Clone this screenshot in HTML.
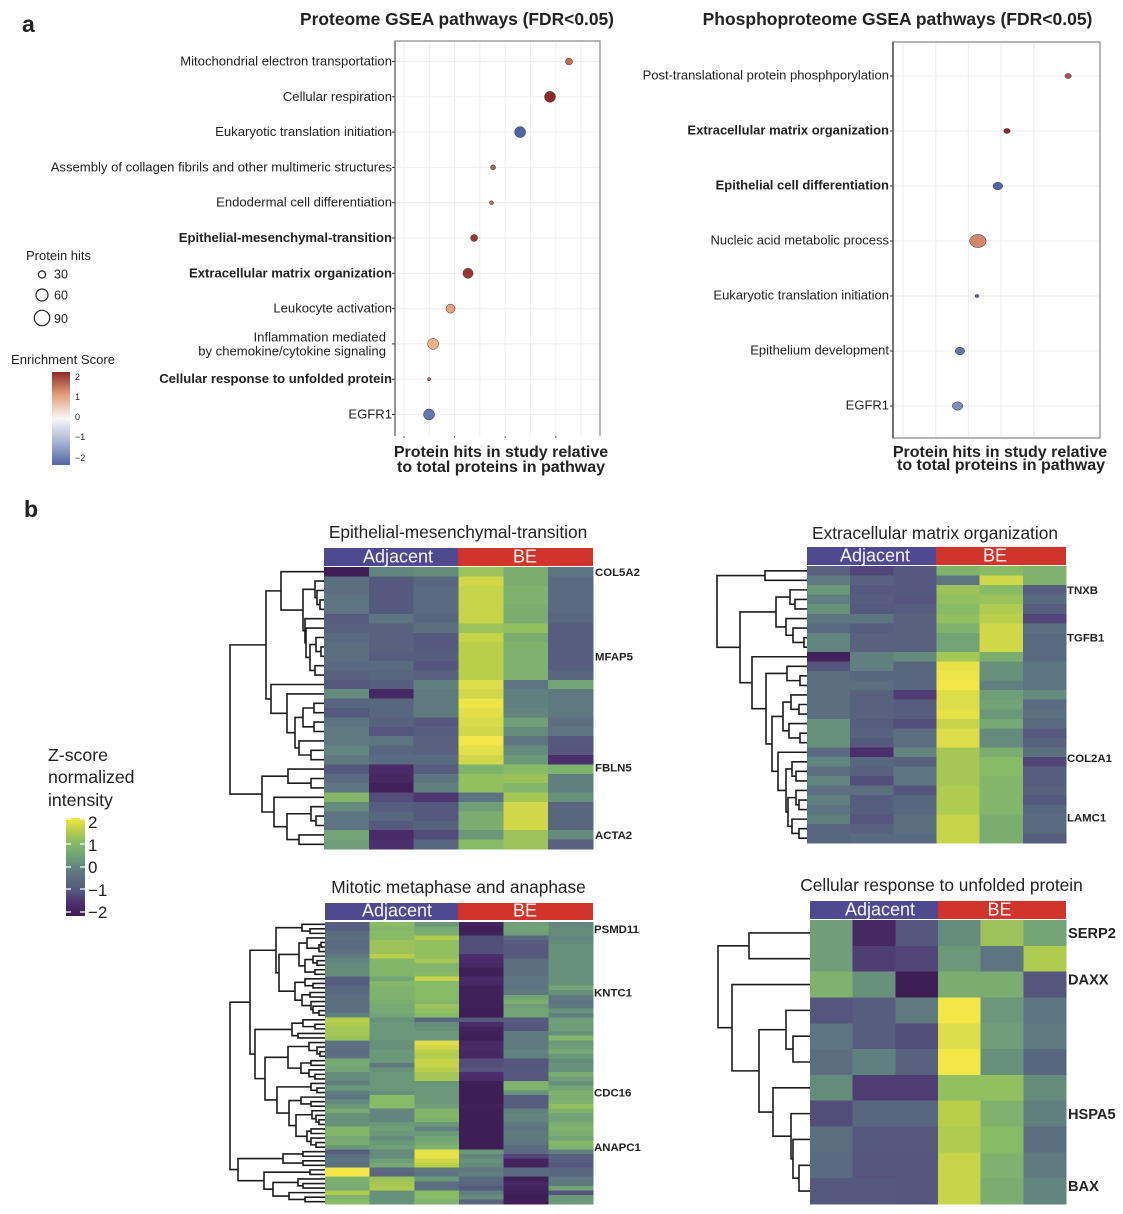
<!DOCTYPE html>
<html lang="en">
<head>
<meta charset="utf-8">
<title>GSEA pathways and heatmaps</title>
<style>
html,body{margin:0;padding:0;background:#fff;}
svg{display:block;font-family:"Liberation Sans",Arial,sans-serif;}
text{fill:#222;}
</style>
</head>
<body>
<svg id="figure" xmlns="http://www.w3.org/2000/svg" width="1123" height="1214" viewBox="0 0 1123 1214">
  <rect x="0" y="0" width="1123" height="1214" fill="#fff"/>
  <defs>
    <linearGradient id="esGrad" x1="0" y1="0" x2="0" y2="1">
      <stop offset="0" stop-color="#8c2a2a"/><stop offset=".25" stop-color="#e3a17e"/><stop offset=".5" stop-color="#f7f7f7"/><stop offset=".75" stop-color="#a9b5d6"/><stop offset="1" stop-color="#5165a5"/>
    </linearGradient>
    <linearGradient id="zGrad" x1="0" y1="0" x2="0" y2="1">
      <stop offset="0" stop-color="#f3e647"/><stop offset=".125" stop-color="#b9cf4a"/><stop offset=".25" stop-color="#88bb66"/><stop offset=".375" stop-color="#72a476"/><stop offset=".5" stop-color="#62857f"/><stop offset=".625" stop-color="#5a6a80"/><stop offset=".75" stop-color="#55557e"/><stop offset=".875" stop-color="#4a2f6c"/><stop offset="1" stop-color="#3f1d55"/>
    </linearGradient>
  </defs>

  <text x="22" y="32" font-size="23" font-weight="bold">a</text>
  <text x="24" y="517" font-size="23" font-weight="bold">b</text>

  <text x="457" y="25" font-size="17.4" font-weight="bold" text-anchor="middle">Proteome GSEA pathways (FDR&lt;0.05)</text>
  <text x="897.5" y="25" font-size="17.5" font-weight="bold" text-anchor="middle">Phosphoproteome GSEA pathways (FDR&lt;0.05)</text>

  <text x="501" y="457" font-size="16" font-weight="bold" text-anchor="middle">Protein hits in study relative</text>
  <text x="501" y="472" font-size="16" font-weight="bold" text-anchor="middle">to total proteins in pathway</text>
  <text x="1000" y="457" font-size="16" font-weight="bold" text-anchor="middle">Protein hits in study relative</text>
  <text x="1001" y="470" font-size="16" font-weight="bold" text-anchor="middle">to total proteins in pathway</text>

  <g>
    <text x="26" y="260" font-size="13">Protein hits</text>
    <circle cx="42" cy="274.5" r="3.6" fill="#fff" stroke="#222" stroke-width="1.2"/>
    <text x="54" y="278.5" font-size="12.5">30</text>
    <circle cx="42" cy="295" r="6" fill="#fff" stroke="#222" stroke-width="1.2"/>
    <text x="54" y="299.5" font-size="12.5">60</text>
    <circle cx="42" cy="318" r="7.7" fill="#fff" stroke="#222" stroke-width="1.2"/>
    <text x="54" y="323" font-size="12.5">90</text>
  </g>

  <g>
    <text x="11" y="364" font-size="13.1">Enrichment Score</text>
    <rect x="52" y="372" width="18" height="93" fill="url(#esGrad)"/>
    <text x="75" y="380" font-size="9">2</text>
    <text x="75" y="400" font-size="9">1</text>
    <text x="75" y="420" font-size="9">0</text>
    <text x="75" y="440" font-size="9">−1</text>
    <text x="75" y="461" font-size="9">−2</text>
  </g>

  <g>
    <text x="48" y="761" font-size="17.7">Z-score</text>
    <text x="48" y="783" font-size="17.7">normalized</text>
    <text x="48" y="806" font-size="17.7">intensity</text>
    <rect x="66" y="818" width="19" height="98" fill="url(#zGrad)"/>
    <g stroke="#fff" stroke-width="1.2">
      <path d="M66 819h5M80 819h5M66 844h5M80 844h5M66 867h5M80 867h5M66 889h5M80 889h5M66 912h5M80 912h5"/>
    </g>
    <text x="88" y="828" font-size="17">2</text>
    <text x="88" y="851" font-size="17">1</text>
    <text x="88" y="873" font-size="17">0</text>
    <text x="88" y="896" font-size="17">−1</text>
    <text x="88" y="918" font-size="17">−2</text>
  </g>
</svg>

<script>
/* ---------- dot plot data ---------- */
const proteomePathways = ["Mitochondrial electron transportation","Cellular respiration","Eukaryotic translation initiation","Assembly of collagen fibrils and other multimeric structures","Endodermal cell differentiation","Epithelial-mesenchymal-transition","Extracellular matrix organization","Leukocyte activation","Inflammation mediated|by chemokine/cytokine signaling","Cellular response to unfolded protein","EGFR1"];
const proteomeBold = [false,false,false,false,false,true,true,false,false,true,false];
const proteomeRatio = [0.652,0.577,0.459,0.352,0.346,0.277,0.253,0.184,0.115,0.099,0.099];
const proteomeHits = [19,47,47,10,6,19,40,32,47,4,47];
const proteomeScore = [1.5,2.0,-2.1,1.6,1.5,1.9,1.9,1.1,0.95,1.6,-1.8];
const phosphoPathways = ["Post-translational protein phosphporylation","Extracellular matrix organization","Epithelial cell differentiation","Nucleic acid metabolic process","Eukaryotic translation initiation","Epithelium development","EGFR1"];
const phosphoBold = [false,true,true,false,false,false,false];
const phosphoRatio = [0.505,0.318,0.290,0.229,0.226,0.174,0.167];
const phosphoHits = [11,11,25,75,4,24,30];
const phosphoScore = [1.7,2.0,-2.2,1.3,-2.0,-1.8,-1.5];
const esStops = [-2,-1,0,1,2];
const esColors = ["#5165a5","#a9b5d6","#f7f7f7","#eeb08a","#8c2a2a"];

/* ---------- heatmap data ---------- */
const sampleGroups = ["Adjacent","BE"];
const zStops = [-2,-1.5,-1,-0.5,0,0.5,1,1.5,2];
const zColors = ["#3f1d55","#4a2f6c","#55557e","#5a6a80","#62857f","#72a476","#88bb66","#b9cf4a","#f3e647"];

const emtRows = [
[-2,0,.1,1.2,.7,-.3],[-.4,-.9,-.6,1.7,.7,-.5],[-.4,-.9,-.5,1.6,.8,-.5],[-.3,-.9,-.5,1.6,.8,-.5],[-.3,-.9,-.5,1.6,.7,-.5],
[-.8,-.3,-.6,1.6,.7,-.6],[-.7,-.7,-.4,1.2,1.1,-.8],[-.5,-.7,-.9,1.6,.7,-.8],[-.4,-.7,-.9,1.5,.8,-.8],[-.4,-.8,-.8,1.5,.8,-.8],
[-.5,-.5,-1,1.5,.8,-.8],[-.7,-.6,-.7,1.5,.8,-.6],[-.9,-.8,-.1,1.8,-.3,.5],[.1,-1.7,-.2,1.7,-.1,-.2],[-.6,-.6,-.2,1.95,-.1,-.2],
[-.9,-.6,-.2,1.85,0,-.2],[-.3,-.7,-.9,1.75,.4,-.4],[-.2,-1,-.8,1.7,.1,-.3],[-.2,-.3,-.7,2,-.3,-.9],[0,-.6,-.7,1.85,.1,-1],
[-.2,-.5,-.5,1.7,.3,-1.5],[-.9,-1.6,-.8,.8,1,.8],[-.5,-1.7,-.3,1.1,1.2,-.1],[-.3,-1.9,-.1,1.1,.9,-.1],[.9,-1.1,-1.4,-.3,1.3,.2],
[.1,-.8,-.9,.4,1.7,-.6],[-.3,-.6,-.9,.7,1.7,-.6],[-.3,-.9,-.7,.7,1.7,-.6],[.5,-1.6,-1.1,.3,1.2,.1],[.4,-1.5,-.6,1,1.2,-.7]];
const emtTree = [94,[58,[43,0,[21,[9,0,[7,0,[4,0,0]]],[19,0,[18,0,[14,[8,0,[3,0,0]],[9,0,0]]]]]],[53,0,[37,0,[29,[21,[10,0,0],[10,0,0]],[25,0,[13,0,0]]]]]],[62,[36,0,[13,0,0]],[50,0,[37,[13,0,[8,0,0]],[25,0,0]]]]];
const emtGenes = ["COL5A2","MFAP5","FBLN5","ACTA2"];
const emtGeneRows = [0,9,20.8,28];

const ecmRows = [
[-.7,-1.2,-.9,.8,1,.8],[-.2,-.7,-.9,-.3,1.7,.8],[.3,-.9,-.9,1.2,1,-.8],[-.1,-.8,-1,1.1,1.2,-.5],[.2,-.9,-.8,1,1.4,-.8],
[-.3,-.3,-.7,1.1,1.5,-1.2],[-.5,-.8,-.7,.8,1.7,-.4],[0,-.7,-.7,.5,1.7,-.5],[0,-.7,-.7,.5,1.7,-.5],[-1.9,-.1,.1,1.3,.7,-.5],
[-1,-.1,-.6,1.9,.2,-.3],[-.4,-.6,-.6,1.95,.2,-.3],[-.4,-.4,-.6,2,-.1,-.3],[-.4,-.7,-1.3,1.8,.4,.1],[-.4,-.7,-.8,1.8,.5,-.5],
[-.4,-.7,-.8,1.9,.3,-.4],[.2,-.8,-1.1,1.6,.6,-.5],[.2,-.7,-.4,1.8,.1,-.9],[.2,-.9,-.4,1.8,.1,-.7],[-.5,-1.5,0,1.3,.7,-.4],
[0,-.6,-.7,1.3,1,-1.2],[-.4,-.7,-.3,1.3,1,-.8],[0,-1.1,-.3,1.3,.9,-.8],[-.4,-.4,-1,1.4,.9,-.7],[-.1,-.8,-.6,1.4,.9,-.9],
[-.3,-.8,-.6,1.4,.9,-.6],[-.1,-1,-.4,1.6,.7,-.5],[-.6,-.7,-.4,1.6,.7,-.5],[-.6,-.5,-.5,1.6,.7,-.8]];
const ecmTree = [90,[42,0,0],[67,[31,[17,0,[12,0,0]],[21,0,[14,0,[3,0,0]]]],[55,0,[41,[20,0,[7,0,0]],[35,[24,[16,0,[8,0,0]],[18,0,[7,0,0]]],[29,0,[21,[15,0,[11,0,0]],[19,[11,0,[8,0,0]],[15,0,[8,0,0]]]]]]]]]];
const ecmGenes = ["TNXB","TGFB1","COL2A1","LAMC1"];
const ecmGeneRows = [2,7,19.6,25.8];

const mitoticRows = [
[-.8,1,.3,-1.8,.4,0],[-.8,.9,.6,-2,.5,.1],[-.5,1,.7,-1.9,.4,.1],[-.4,1,1.4,-1.1,-.5,0],[-.5,1.2,1.1,-1.1,-.8,.1],
[-.5,1.2,1.1,-1.1,-.9,.2],[-.4,1.2,1.1,-1.1,-.9,.2],[-.2,1.5,1.1,-1.5,-.9,.2],[0,.9,1.3,-1.6,-.4,.2],[.1,.9,.9,-1.7,-.4,.2],
[.1,.9,.9,-1.95,-.4,.2],[.1,.9,1,-1.95,-.4,.2],[-.8,.5,1.6,-1.6,-.3,.2],[-.8,.9,1,-1.7,-.3,.2],[-.6,.8,1,-1.9,-.3,.5],
[-.5,.8,1,-1.9,-.2,.2],[-.4,.8,1,-1.9,.5,-.2],[-.4,.7,.9,-1.9,.7,-.3],[-.4,.6,1.2,-1.9,.4,-.2],[-.4,.6,1.1,-2,.5,.2],
[-.1,.5,1,-2,.5,-.1],[1.5,.2,-.6,-.9,-.9,.4],[1.4,.3,.1,-1.6,-.9,.4],[1.3,.3,.2,-1.8,-1,.4],[1.3,.3,.3,-1.9,-.2,.2],
[1.2,.3,.3,-2,-.2,.9],[-.3,.2,1.8,-1.7,-.2,.3],[-.4,.2,1.7,-1.6,-.2,.4],[-.5,.3,1.5,-1.7,0,.6],[-.4,.3,1.4,-1.7,-.1,.3],
[.6,.3,1.6,-1.1,-1,.1],[.6,-.2,1.6,-1.1,-1,.2],[.5,.2,1.5,-1,-.9,.2],[.1,.3,1.3,-1.5,-.9,.7],[.1,.3,1.3,-1.6,-.9,.4],
[-.1,.3,.3,-2.3,.8,.2],[.3,.3,.3,-2.3,.8,.5],[-.1,.2,.3,-2.2,.2,.8],[-.3,1,.3,-2.1,-.8,.7],[.1,1,.3,-2,-.8,.8],
[.3,1,.4,-1.9,-.8,1.1],[.6,0,.8,-2.2,-.1,.8],[.2,0,.9,-2.2,0,.5],[.2,0,.8,-2.2,0,.5],[.2,.3,.3,-2.2,-.2,.7],
[.9,.4,-.1,-2.2,-.3,.8],[.9,.3,.3,-2.2,-.2,.7],[.6,.1,.5,-2.2,-.2,.5],[.7,.3,.6,-2.2,-.3,.9],[.3,.4,.8,-2.2,-.5,.8],
[-.8,.1,1.9,.3,-.5,-.1],[-.4,.1,1.9,0,-1.2,-.7],[-.3,.4,1.7,.2,-1.8,-.8],[-.4,.6,1.5,.1,-1.8,-1],[2,-.5,-.2,-.2,-.5,-.6],
[2,-.6,-.3,-.1,-.5,-.6],[.8,1.2,.3,-.5,-1.9,-.2],[.7,1.3,-.4,-.6,-1.7,-.2],[.6,1.4,-.4,-.9,-1.8,.5],[1.4,.2,1,-.1,-1.9,-1],
[.8,.2,1,.1,-2,.3],[1,.2,.8,-.6,-2.1,.3]];
const mitoticTree = [95,[75,[49,[23,0,[15,0,0]],[46,[26,[18,0,[6,[4,0,0],0]],[20,[12,0,[8,0,0]],[10,0,0]]],[30,[20,0,[12,0,0]],[23,[15,0,0],[14,0,[12,0,[6,0,0]]]]]]],[70,[33,[22,0,[10,0,0]],[27,0,0]],[60,[37,[16,0,[8,0,[5,0,0]]],[24,[14,0,0],[16,0,[10,0,0]]]],[48,[14,0,[8,0,0]],[36,[24,0,[14,0,0]],[29,[13,0,[9,0,[6,0,0]]],[18,[14,0,0],[14,0,[9,0,0]]]]]]]]],[87,[42,[22,0,0],[22,0,0]],[61,[15,0,0],[52,[27,0,[22,0,0]],[36,0,[20,0,0]]]]]];
const mitoticGenes = ["PSMD11","KNTC1","CDC16","ANAPC1"];
const mitoticGeneRows = [1,15,37,49];

const unfoldedRows = [
[.4,-1.7,-1,.1,1.2,.5],[.4,-1.3,-1.2,.3,-.3,1.4],[.8,.2,-2.1,.7,.7,-1],[-1,-.8,-.2,2,.3,-.3],[-.3,-.8,-1.1,1.8,.4,-.2],
[-.4,-.1,-.7,2,.2,-.6],[.1,-1.3,-1.3,1.1,1.1,.1],[-1.1,-.6,-.6,1.5,.8,-.1],[-.4,-.9,-.9,1.4,1,-.4],[-.5,-1,-1,1.6,.8,-.2],[-.9,-.9,-1,1.6,.7,0]];
const unfoldedTree = [92,[61,0,0],[78,0,[51,[24,0,[17,0,0]],[37,0,[19,0,[17,0,[11,0,0]]]]]]];
const unfoldedGenes = ["SERP2","DAXX","HSPA5","BAX"];
const unfoldedGeneRows = [0,1.8,7,9.8];

/* ---------- helpers ---------- */
const NS = "http://www.w3.org/2000/svg";
const root = document.getElementById("figure");
function make(parent, tag, attrs) {
  const el = document.createElementNS(NS, tag);
  for (const k in attrs) el.setAttribute(k, attrs[k]);
  parent.appendChild(el);
  return el;
}
function hexToRgb(h) { return [1,3,5].map(i => parseInt(h.substr(i,2),16)); }
function ramp(stops, colors, v) {
  if (v <= stops[0]) return colors[0];
  if (v >= stops[stops.length-1]) return colors[colors.length-1];
  let i = 0;
  while (v > stops[i+1]) i++;
  const t = (v - stops[i]) / (stops[i+1] - stops[i]);
  const a = hexToRgb(colors[i]), b = hexToRgb(colors[i+1]);
  return "rgb(" + a.map((c,j) => Math.round(c + (b[j]-c)*t)).join(",") + ")";
}

/* ---------- dot plots ---------- */
function drawDotPlot(slug, cfg) {
  const g = make(root, "g", {});
  
  
  const xScale = v => cfg.x0 + v * cfg.pxPerUnit;
  const yScale = i => cfg.yFirst + i * cfg.yStep;
  const grid = make(g, "g", {stroke:"#f0f0f0","stroke-width":"1.2",fill:"none"});
  
  
  for (let t = 0; t <= cfg.gridMax + 1e-9; t += cfg.gridStep) {
    make(grid, "line", {x1:xScale(t), x2:xScale(t), y1:cfg.top, y2:cfg.bottom});
  }
  cfg.labels.forEach((_, i) => {
    make(grid, "line", {x1:cfg.left, x2:cfg.right, y1:yScale(i), y2:yScale(i)});
  });
  const frame = make(g, "path", {d:cfg.frame, fill:"none", stroke:"#8a8a8a", "stroke-width":"1.2"});
  
  
  const leftAxis = make(g, "line", {x1:cfg.left, x2:cfg.left, y1:cfg.top, y2:cfg.bottom, stroke:cfg.axisColor, "stroke-width":"1.4"});
  
  
  cfg.labels.forEach((label, i) => {
    const y = yScale(i);
    const tick = make(g, "line", {x1:cfg.left-3, x2:cfg.left, y1:y, y2:y, stroke:"#333", "stroke-width":"1"});
    
    
    const parts = label.split("|");
    parts.forEach((part, j) => {
      const multi = parts.length > 1;
      const t = make(g, "text", {
        x: multi ? cfg.left-9 : cfg.labelRight,
        y: y + 4.5 + cfg.labelDy + (multi ? (j === 0 ? -6.5 : 7.5) : 0),
        "font-size": cfg.fontSize,
        "font-weight": cfg.bold[i] ? "bold" : "normal",
        "text-anchor": "end"
      });
      t.textContent = part;
      
      
    });
    const r = Math.sqrt(cfg.hits[i]) * 0.8;
    const dot = make(g, "ellipse", {
      cx: xScale(cfg.ratio[i]), cy: y,
      rx: r * cfg.rxFactor, ry: r * cfg.ryFactor,
      fill: ramp(esStops, esColors, cfg.score[i]),
      stroke: "#333", "stroke-width": "0.5"
    });
    
    
  });
  if (cfg.tickStep) {
    for (let t = 0; t <= cfg.gridMax + 1e-9; t += cfg.tickStep) {
      const xt = make(g, "line", {x1:xScale(t), x2:xScale(t), y1:cfg.bottom, y2:cfg.bottom+2, stroke:"#666", "stroke-width":"1"});
      
      
    }
  }
}

drawDotPlot("proteome", {
  labels: proteomePathways, bold: proteomeBold, ratio: proteomeRatio, hits: proteomeHits, score: proteomeScore,
  left: 395, right: 600, top: 41, bottom: 436, x0: 404, pxPerUnit: 253, gridStep: 0.1, gridMax: 0.7, tickStep: 0.2,
  yFirst: 61.5, yStep: 35.3, fontSize: 13.1, labelRight: 392, labelDy: -0.5, rxFactor: 1, ryFactor: 1, axisColor: "#777",
  frame: "M395 436V41H600V436"
});
drawDotPlot("phospho", {
  labels: phosphoPathways, bold: phosphoBold, ratio: phosphoRatio, hits: phosphoHits, score: phosphoScore,
  left: 893, right: 1100, top: 42, bottom: 438, x0: 903, pxPerUnit: 327, gridStep: 0.1, gridMax: 0.4, tickStep: 0,
  yFirst: 76, yStep: 55, fontSize: 13, labelRight: 889, labelDy: -1, rxFactor: 1.2, ryFactor: 0.95, axisColor: "#444",
  frame: "M893 438V42H1100V438Z"
});

/* ---------- heatmaps ---------- */
function drawDendrogram(g, tree, heatLeft, heatTop, rowH) {
  let leaf = 0;
  let d = "";
  function walk(node) {
    if (node === 0) {
      const y = heatTop + (leaf + 0.5) * rowH;
      leaf++;
      return {x: heatLeft, y: y};
    }
    const x = heatLeft - node[0];
    const a = walk(node[1]);
    const b = walk(node[2]);
    d += "M" + a.x + " " + a.y + "H" + x + "V" + b.y + "H" + b.x;
    return {x: x, y: (a.y + b.y) / 2};
  }
  walk(tree);
  const path = make(g, "path", {d: d, fill: "none", stroke: "#1c1c1c", "stroke-width": "1.6"});
  
  
}

function drawHeatmap(slug, cfg) {
  const g = make(root, "g", {});
  
  
  const title = make(g, "text", {x: cfg.titleX, y: cfg.titleY, "font-size": cfg.titleSize, "text-anchor": "middle"});
  title.textContent = cfg.title;
  
  

  const nCols = cfg.rows[0].length;
  const colW = (cfg.right - cfg.left) / nCols;
  const rowH = (cfg.bottom - cfg.top) / cfg.rows.length;
  const xScale = c => cfg.left + c * colW;
  const yScale = r => cfg.top + r * rowH;

  const groupColors = ["#4f4a8f", "#d0342a"];
  sampleGroups.forEach((name, i) => {
    const x0 = i === 0 ? cfg.left : cfg.split;
    const x1 = i === 0 ? cfg.split : cfg.right;
    const bar = make(g, "rect", {x: x0, y: cfg.barTop, width: x1 - x0, height: cfg.barBottom - cfg.barTop, fill: groupColors[i]});
    
    
    const label = make(g, "text", {x: cfg.groupLabelX[i], y: cfg.barBottom - 3.5, "font-size": "18", "text-anchor": "middle"});
    label.style.fill = "#f4f4f4";
    label.textContent = name;
    
    
  });

  const cells = make(g, "g", {"shape-rendering": "crispEdges"});
  
  
  cfg.rows.forEach((row, r) => {
    row.forEach((v, c) => {
      const cell = make(cells, "rect", {
        x: xScale(c), y: yScale(r), width: colW + 0.5, height: rowH + 0.5,
        fill: ramp(zStops, zColors, v)
      });
      
      
    });
  });

  drawDendrogram(g, cfg.tree, cfg.left, cfg.top, rowH);

  cfg.genes.forEach((gene, i) => {
    const t = make(g, "text", {
      x: cfg.geneX, y: yScale(cfg.geneRows[i] + 0.5) + cfg.geneSize * 0.36,
      "font-size": cfg.geneSize, "font-weight": "bold"
    });
    t.textContent = gene;
    
    
  });
}

drawHeatmap("emt", {
  title: "Epithelial-mesenchymal-transition", titleX: 458, titleY: 538, titleSize: 17.3,
  rows: emtRows, tree: emtTree, genes: emtGenes, geneRows: emtGeneRows, geneX: 595, geneSize: 11.4,
  left: 324, right: 593, top: 567, bottom: 849, split: 458, barTop: 548, barBottom: 566, groupLabelX: [398, 525]
});
drawHeatmap("ecm", {
  title: "Extracellular matrix organization", titleX: 935, titleY: 539, titleSize: 17.3,
  rows: ecmRows, tree: ecmTree, genes: ecmGenes, geneRows: ecmGeneRows, geneX: 1067, geneSize: 11.4,
  left: 807, right: 1066, top: 566, bottom: 843, split: 936, barTop: 547, barBottom: 565, groupLabelX: [875, 995]
});
drawHeatmap("mitotic", {
  title: "Mitotic metaphase and anaphase", titleX: 458.5, titleY: 893, titleSize: 17.3,
  rows: mitoticRows, tree: mitoticTree, genes: mitoticGenes, geneRows: mitoticGeneRows, geneX: 594, geneSize: 11.4,
  left: 325, right: 593, top: 922, bottom: 1204, split: 458, barTop: 903, barBottom: 920, groupLabelX: [397, 525]
});
drawHeatmap("unfolded", {
  title: "Cellular response to unfolded protein", titleX: 941.5, titleY: 891, titleSize: 17.3,
  rows: unfoldedRows, tree: unfoldedTree, genes: unfoldedGenes, geneRows: unfoldedGeneRows, geneX: 1068, geneSize: 14.6,
  left: 810, right: 1066, top: 920, bottom: 1204, split: 938, barTop: 901, barBottom: 919, groupLabelX: [880, 999.5]
});
</script>
</body>
</html>
